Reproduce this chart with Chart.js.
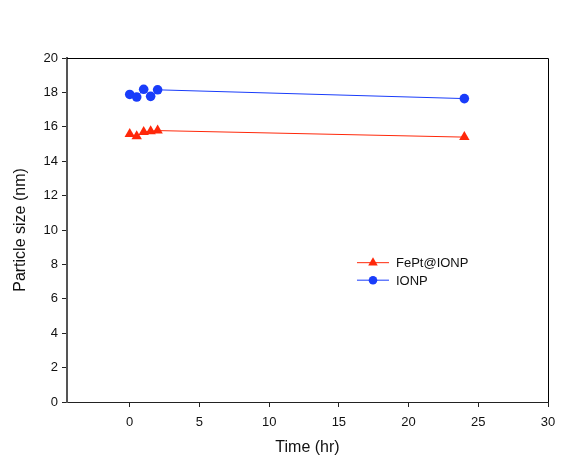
<!DOCTYPE html>
<html>
<head>
<meta charset="utf-8">
<script src="https://cdn.jsdelivr.net/npm/chart.js@4/dist/chart.umd.min.js"></script>
<style>
  html, body { margin: 0; padding: 0; background: #ffffff; }
  #wrap { width: 576px; height: 457px; }
</style>
</head>
<body>
<div id="wrap"><canvas id="c" width="576" height="457"></canvas></div>
<script>
// Sampling times (hours)
const times = [0, 0.5, 1, 1.5, 2, 24];
// Particle size (nm) per sample
const fePtIonp = [15.58, 15.45, 15.70, 15.74, 15.78, 15.40];
const ionp = [17.88, 17.73, 18.18, 17.77, 18.15, 17.64];
// Axis tick values
const xTicks = [0, 5, 10, 15, 20, 25, 30];
const yTicks = [0, 2, 4, 6, 8, 10, 12, 14, 16, 18, 20];

const RED = 'rgb(255,40,10)';
const BLUE = 'rgb(25,60,250)';
const FONT = '"Liberation Sans", Arial, sans-serif';

const toPoints = (ys) => times.map((t, i) => ({ x: t, y: ys[i] }));

// Frame on the top and right edges of the plot area
const framePlugin = {
  id: 'frame',
  afterDraw(chart) {
    const { ctx, chartArea: a } = chart;
    ctx.save();
    ctx.strokeStyle = '#000';
    ctx.lineWidth = 1;
    ctx.beginPath();
    ctx.moveTo(a.left, a.top + 0.5);
    ctx.lineTo(a.right + 0.5, a.top + 0.5);
    ctx.lineTo(a.right + 0.5, a.bottom);
    ctx.stroke();
    ctx.restore();
  }
};

// Legend drawn inside the plot area, using each dataset's own style
const insetLegend = {
  id: 'insetLegend',
  afterDraw(chart) {
    const { ctx } = chart;
    const xs = chart.scales.x, ys = chart.scales.y;
    const x0 = xs.getPixelForValue(16.3);
    const lineLen = 32;
    let yRow = ys.getPixelForValue(8.1);
    ctx.save();
    chart.data.datasets.forEach((ds) => {
      ctx.strokeStyle = ds.borderColor;
      ctx.lineWidth = 1;
      ctx.beginPath();
      ctx.moveTo(x0, yRow);
      ctx.lineTo(x0 + lineLen, yRow);
      ctx.stroke();
      ctx.fillStyle = ds.backgroundColor;
      ctx.strokeStyle = ds.borderColor;
      Chart.helpers.drawPoint(ctx, {
        pointStyle: ds.pointStyle,
        radius: ds.pointRadius - 0.5,
        rotation: 0,
        borderWidth: 0
      }, x0 + lineLen / 2, yRow);
      ctx.fillStyle = '#111';
      ctx.font = '13px ' + FONT;
      ctx.textBaseline = 'middle';
      ctx.textAlign = 'left';
      ctx.fillText(ds.label, x0 + lineLen + 7, yRow + 1);
      yRow += 17.5;
    });
    ctx.restore();
  }
};

new Chart(document.getElementById('c'), {
  type: 'line',
  data: {
    datasets: [
      {
        label: 'FePt@IONP',
        data: toPoints(fePtIonp),
        borderColor: RED,
        backgroundColor: RED,
        borderWidth: 1,
        pointStyle: 'triangle',
        pointRadius: 6,
        pointBorderWidth: 0,
        tension: 0
      },
      {
        label: 'IONP',
        data: toPoints(ionp),
        borderColor: BLUE,
        backgroundColor: BLUE,
        borderWidth: 1,
        pointStyle: 'circle',
        pointRadius: 4.8,
        pointBorderWidth: 0,
        tension: 0
      }
    ]
  },
  options: {
    responsive: false,
    animation: false,
    devicePixelRatio: 1,
    layout: { padding: { left: 0, top: 58, right: 28, bottom: 0 } },
    plugins: {
      legend: { display: false },
      tooltip: { enabled: false }
    },
    scales: {
      x: {
        type: 'linear',
        min: -4.5,
        max: 30,
        afterBuildTicks(s) { s.ticks = xTicks.map(v => ({ value: v })); },
        afterFit(s) { s.height = 55; },
        grid: { drawOnChartArea: false, drawTicks: true, tickLength: 5, tickColor: '#222', tickWidth: 1 },
        border: { display: true, color: '#222', width: 1 },
        ticks: { color: '#111', font: { family: FONT, size: 13 }, padding: 8, maxRotation: 0 },
        title: { display: true, text: 'Time (hr)', color: '#111', font: { family: FONT, size: 16 }, padding: { top: 4, bottom: 0 } }
      },
      y: {
        type: 'linear',
        min: 0,
        max: 20,
        afterBuildTicks(s) { s.ticks = yTicks.map(v => ({ value: v })); },
        afterFit(s) { s.width = 67; },
        grid: { drawOnChartArea: false, drawTicks: true, tickLength: 5, tickColor: '#222', tickWidth: 1 },
        border: { display: true, color: '#555', width: 2 },
        ticks: { color: '#111', font: { family: FONT, size: 13 }, padding: 4 },
        title: { display: true, text: 'Particle size (nm)', color: '#111', font: { family: FONT, size: 16 }, padding: { top: 11, bottom: 0 } }
      }
    }
  },
  plugins: [framePlugin, insetLegend]
});
</script>
</body>
</html>
